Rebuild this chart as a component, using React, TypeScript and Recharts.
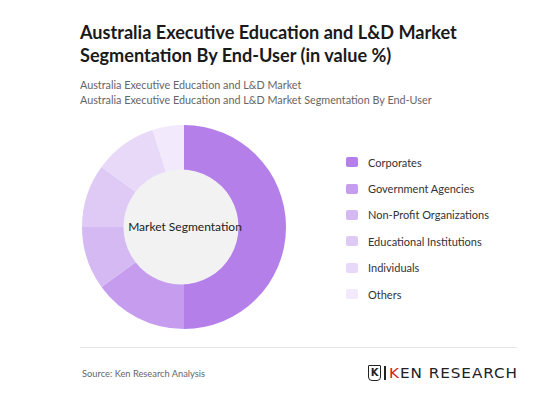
import React from 'react';
import { PieChart, Pie, Cell, Legend } from 'recharts';

const segments = [
    'Corporates',
    'Government Agencies',
    'Non-Profit Organizations',
    'Educational Institutions',
    'Individuals',
    'Others',
];
const shares = [50, 15, 10, 10, 10, 5];
const colors = ['#b57fea', '#c59cee', '#d5b9f3', '#dfcaf6', '#e8d9f9', '#f2e9fc'];

const pieData = segments.map((name, i) => ({ name, value: shares[i] }));
const centerData = [{ name: 'Market Segmentation', value: 1 }];

const FONT = 'Lato, "Open Sans", sans-serif';

function LegendList() {
    return (
        <div style={{ fontFamily: FONT }}>
            {segments.map((name, i) => (
                <div key={name} style={{ display: 'flex', alignItems: 'center', height: 26.4 }}>
                    <span
                        style={{
                            width: 12,
                            height: 10,
                            borderRadius: 2,
                            background: colors[i],
                            marginRight: 10,
                            display: 'inline-block',
                        }}
                    />
                    <span style={{ fontSize: 11, color: '#333' }}>{name}</span>
                </div>
            ))}
        </div>
    );
}

export default function App() {
    return (
        <div
            style={{
                position: 'absolute',
                left: 0,
                top: 0,
                width: 543,
                height: 399,
                background: '#fff',
                fontFamily: FONT,
                overflow: 'hidden',
            }}
        >
            <div
                style={{
                    position: 'absolute',
                    left: 80,
                    top: 21,
                    fontSize: 18.1,
                    fontWeight: 700,
                    lineHeight: '23px',
                    color: '#1a1a1a',
                    width: 450,
                }}
            >
                Australia Executive Education and L&amp;D Market
                <br />
                Segmentation By End-User (in value %)
            </div>
            <div
                style={{
                    position: 'absolute',
                    left: 80,
                    top: 77,
                    fontSize: 10.8,
                    lineHeight: '15px',
                    color: '#666',
                }}
            >
                Australia Executive Education and L&amp;D Market
                <br />
                Australia Executive Education and L&amp;D Market Segmentation By End-User
            </div>

            <div style={{ position: 'absolute', left: 0, top: 0 }}>
                <PieChart width={543} height={399} margin={{ top: 0, right: 0, bottom: 0, left: 0 }}>
                    <Pie
                        data={pieData}
                        dataKey="value"
                        nameKey="name"
                        cx={184}
                        cy={227}
                        innerRadius={50}
                        outerRadius={102}
                        startAngle={90}
                        endAngle={-270}
                        stroke="none"
                        isAnimationActive={false}
                    >
                        {pieData.map((entry, index) => (
                            <Cell key={`cell-${index}`} fill={colors[index]} />
                        ))}
                    </Pie>
                    <Pie
                        data={centerData}
                        dataKey="value"
                        cx={181}
                        cy={227}
                        innerRadius={0}
                        outerRadius={57.5}
                        fill="#f2f2f2"
                        stroke="none"
                        isAnimationActive={false}
                    />
                    <Legend
                        content={() => <LegendList />}
                        wrapperStyle={{ position: 'absolute', left: 346, top: 149, width: 180 }}
                    />
                </PieChart>
            </div>
            <div
                style={{
                    position: 'absolute',
                    left: 85,
                    top: 219,
                    width: 200,
                    textAlign: 'center',
                    fontSize: 12,
                    lineHeight: '16px',
                    color: '#222',
                }}
            >
                Market Segmentation
            </div>

            <div
                style={{
                    position: 'absolute',
                    left: 80,
                    top: 347,
                    width: 437,
                    height: 1,
                    background: '#e6e6e6',
                }}
            />
            <div style={{ position: 'absolute', left: 82, top: 368, fontSize: 9.3, color: '#666' }}>
                Source: Ken Research Analysis
            </div>
            <div
                style={{
                    position: 'absolute',
                    left: 368,
                    top: 365,
                    display: 'flex',
                    alignItems: 'center',
                    fontFamily: '"DejaVu Sans", sans-serif',
                }}
            >
                <span
                    style={{
                        width: 11,
                        height: 14,
                        border: '1.5px solid #222',
                        borderRadius: '1px 1px 4px 4px',
                        fontSize: 10,
                        fontWeight: 700,
                        lineHeight: '14px',
                        textAlign: 'center',
                        color: '#222',
                        boxSizing: 'content-box',
                    }}
                >
                    K
                </span>
                <span style={{ width: 1.5, height: 14, background: '#222', margin: '0 3px' }} />
                <span
                    style={{
                        fontSize: 14.5,
                        color: '#222',
                        letterSpacing: 0.9,
                        lineHeight: '16px',
                        display: 'inline-block',
                        transform: 'scaleX(1.05)',
                        transformOrigin: 'left center',
                    }}
                >
                    <span style={{ color: '#c22' }}>K</span>EN RESEARCH
                </span>
            </div>
        </div>
    );
}
